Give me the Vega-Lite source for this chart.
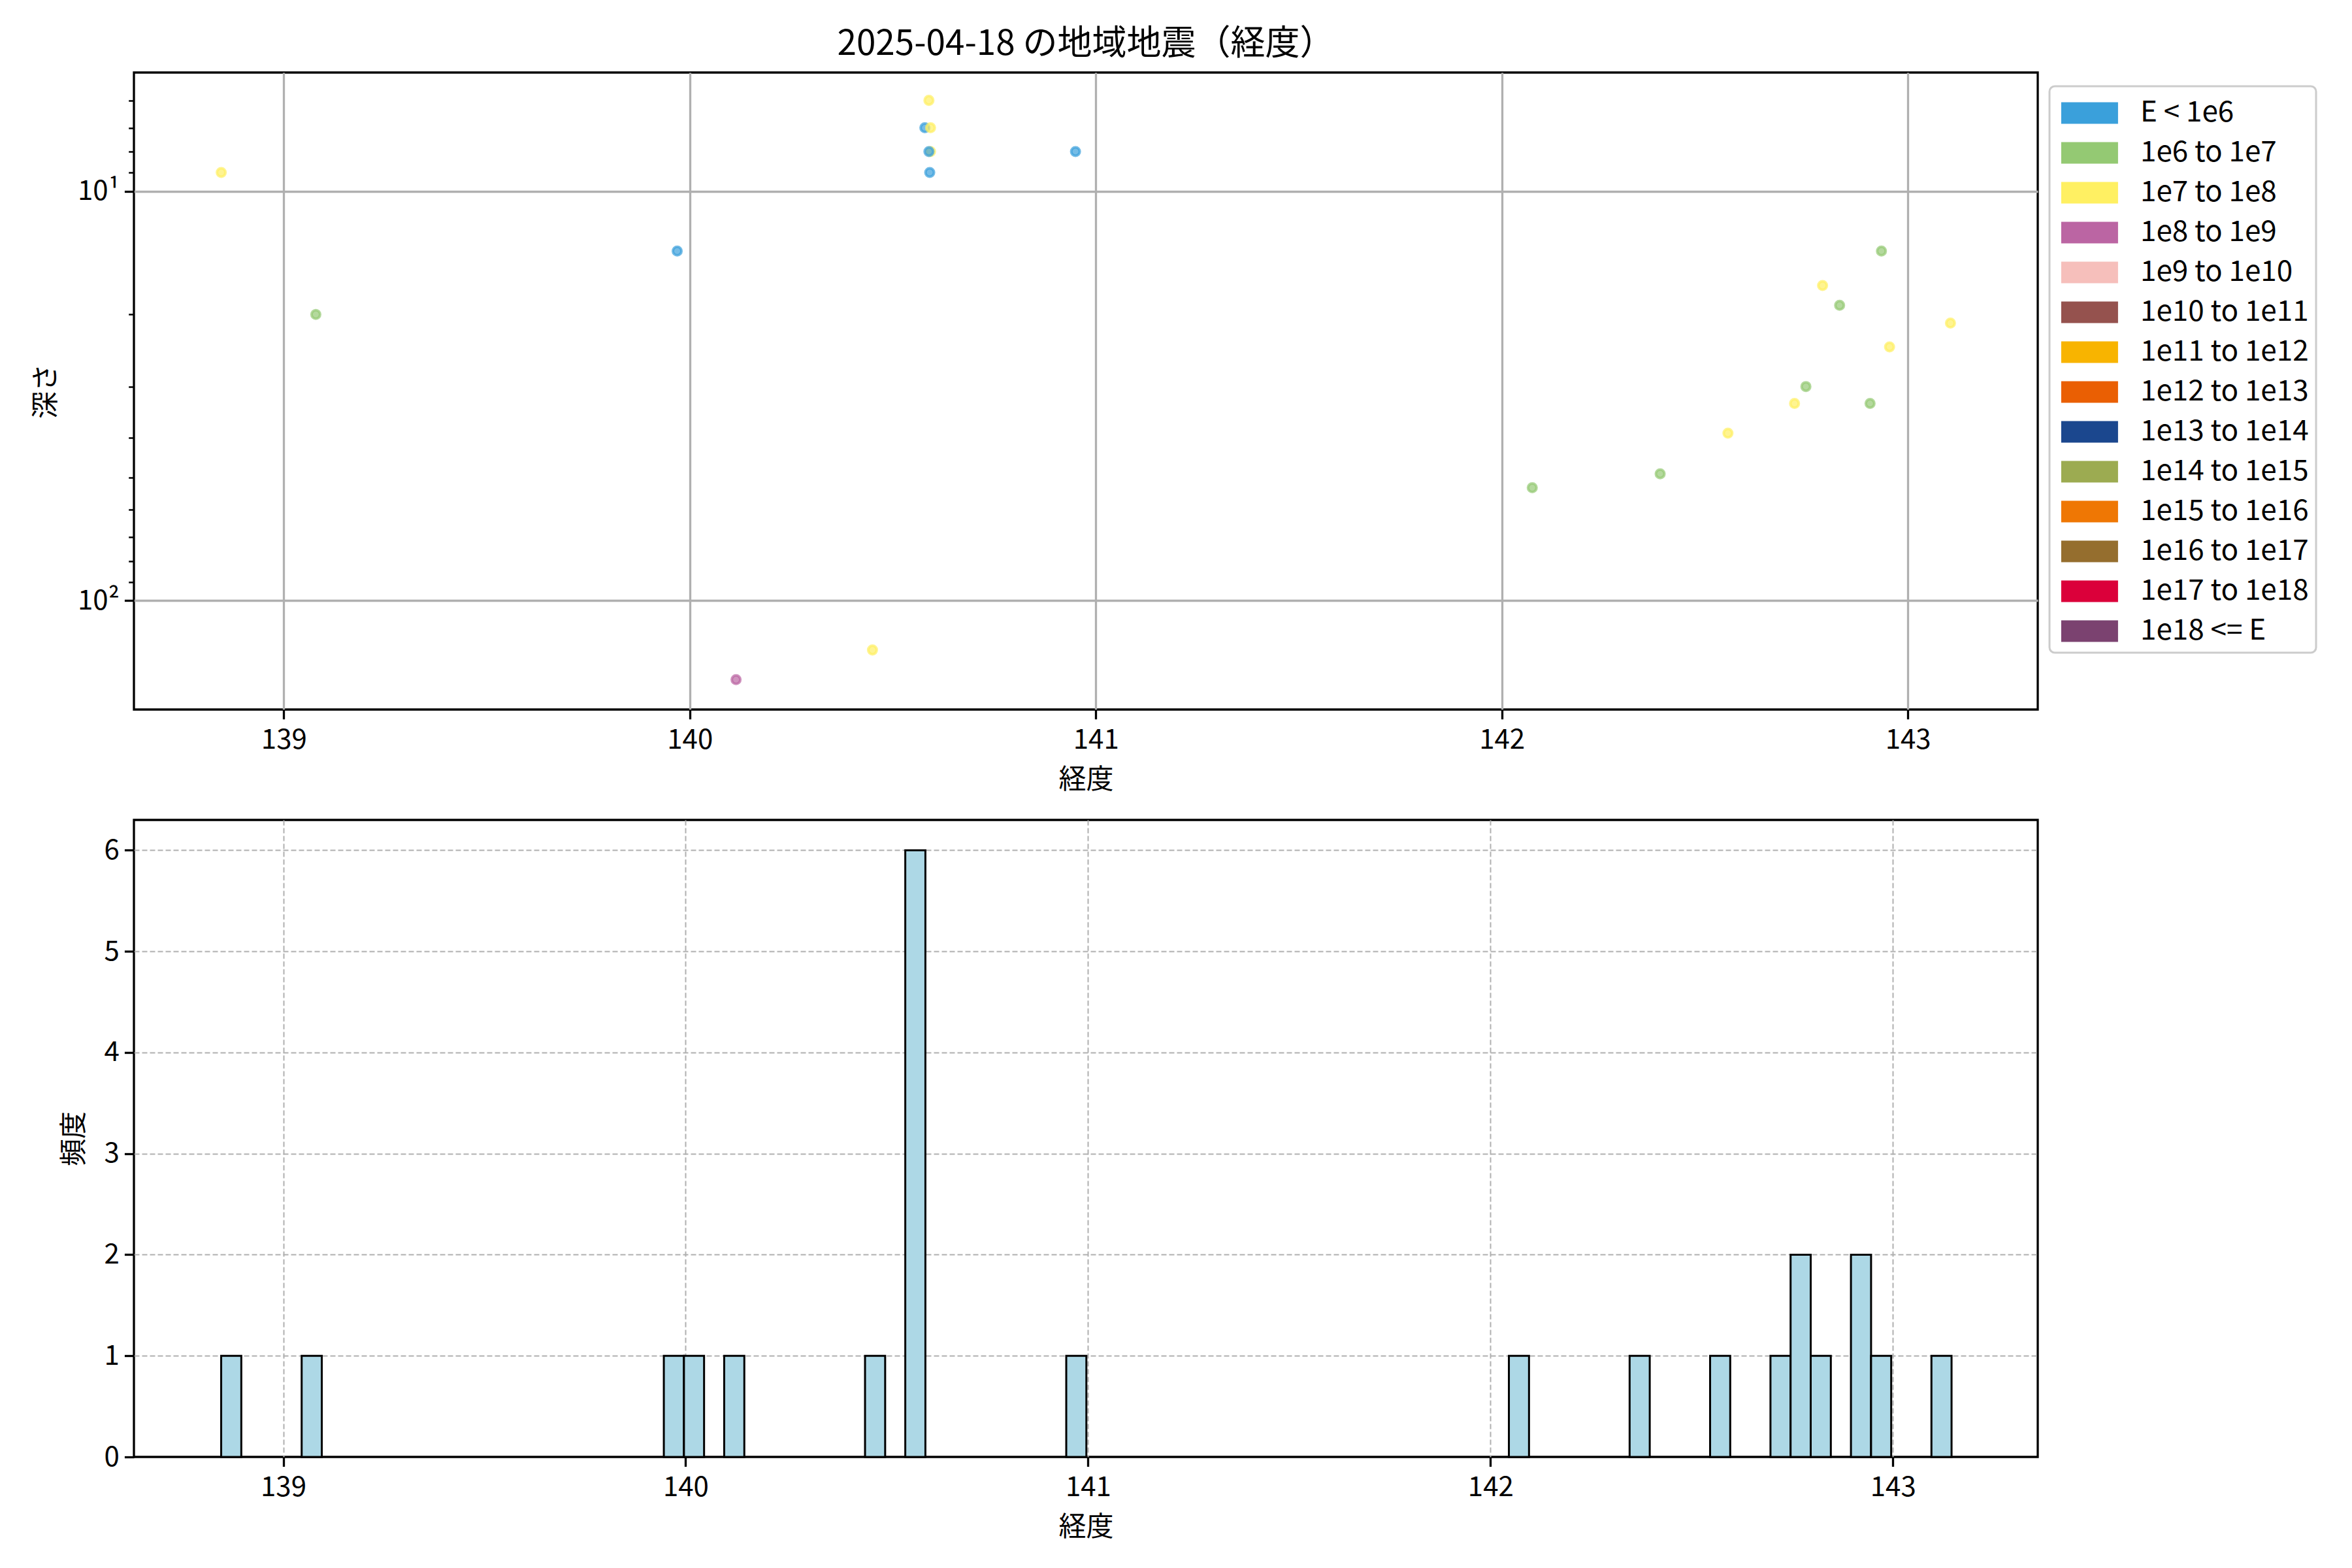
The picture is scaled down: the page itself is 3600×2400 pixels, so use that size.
{
  "$schema": "https://vega.github.io/schema/vega-lite/v6.json",
  "background": "white",
  "padding": {"left": 47, "top": 40, "right": 10, "bottom": 10},
  "spacing": 36,
  "config": {
    "font": "Noto Sans CJK JP",
    "view": {"stroke": "black", "strokeWidth": 3.3},
    "axis": {
      "domain": false,
      "labelFontSize": 42,
      "titleFontSize": 42,
      "labelColor": "black",
      "titleColor": "black",
      "titleFontWeight": "normal",
      "tickColor": "black",
      "tickSize": 14.6,
      "tickWidth": 3.3,
      "labelPadding": 8,
      "titlePadding": 14
    },
    "axisX": {"labelPadding": 12, "titlePadding": 20}
  },
  "datasets": {
    "quakes": [
      {"lon": 138.846, "depth": 9.0, "cls": "1e7 to 1e8"},
      {"lon": 139.079, "depth": 20.0, "cls": "1e6 to 1e7"},
      {"lon": 139.969, "depth": 14.0, "cls": "E < 1e6"},
      {"lon": 140.02, "depth": 0, "cls": "E < 1e6"},
      {"lon": 140.114, "depth": 156, "cls": "1e8 to 1e9"},
      {"lon": 140.45, "depth": 132, "cls": "1e7 to 1e8"},
      {"lon": 140.589, "depth": 6.0, "cls": "1e7 to 1e8"},
      {"lon": 140.579, "depth": 7.0, "cls": "E < 1e6"},
      {"lon": 140.593, "depth": 7.0, "cls": "1e7 to 1e8"},
      {"lon": 140.593, "depth": 8.0, "cls": "1e7 to 1e8"},
      {"lon": 140.589, "depth": 8.0, "cls": "E < 1e6"},
      {"lon": 140.591, "depth": 9.0, "cls": "E < 1e6"},
      {"lon": 140.95, "depth": 8.0, "cls": "E < 1e6"},
      {"lon": 142.075, "depth": 53, "cls": "1e6 to 1e7"},
      {"lon": 142.39, "depth": 49, "cls": "1e6 to 1e7"},
      {"lon": 142.557, "depth": 39, "cls": "1e7 to 1e8"},
      {"lon": 142.721, "depth": 33, "cls": "1e7 to 1e8"},
      {"lon": 142.749, "depth": 30, "cls": "1e6 to 1e7"},
      {"lon": 142.79, "depth": 17, "cls": "1e7 to 1e8"},
      {"lon": 142.832, "depth": 19, "cls": "1e6 to 1e7"},
      {"lon": 142.907, "depth": 33, "cls": "1e6 to 1e7"},
      {"lon": 142.935, "depth": 14, "cls": "1e6 to 1e7"},
      {"lon": 142.955, "depth": 24, "cls": "1e7 to 1e8"},
      {"lon": 143.105, "depth": 21, "cls": "1e7 to 1e8"}
    ]
  },
  "vconcat": [
    {
      "width": 2914,
      "height": 975,
      "title": {"text": "2025-04-18 の地域地震（経度）", "fontSize": 53, "fontWeight": "normal", "offset": 16, "anchor": "middle", "color": "black"},
      "data": {"name": "quakes"},
      "transform": [{"filter": "datum.depth > 0"}],
      "mark": {"type": "point", "filled": true, "size": 170, "fillOpacity": 0.7, "strokeOpacity": 0.7, "strokeWidth": 4},
      "encoding": {
        "x": {
          "field": "lon", "type": "quantitative",
          "scale": {"domain": [138.631, 143.32], "nice": false, "zero": false},
          "axis": {"values": [139, 140, 141, 142, 143], "format": "d", "title": "経度", "grid": true, "gridColor": "#b0b0b0", "gridWidth": 3.3}
        },
        "y": {
          "field": "depth", "type": "quantitative",
          "scale": {"type": "log", "domain": [5.13, 184.5], "reverse": true, "nice": false},
          "axis": {
            "values": [6, 7, 8, 9, 10, 20, 30, 40, 50, 60, 70, 80, 90, 100],
            "labelExpr": "datum.value == 10 ? '10¹' : (datum.value == 100 ? '10²' : '')",
            "title": "深さ",
            "grid": true,
            "gridColor": "#b0b0b0",
            "gridWidth": 3.3,
            "gridOpacity": {"condition": {"test": "datum.value == 10 || datum.value == 100", "value": 1}, "value": 0},
            "tickSize": {"condition": {"test": "datum.value == 10 || datum.value == 100", "value": 14.6}, "value": 8.3},
            "tickWidth": {"condition": {"test": "datum.value == 10 || datum.value == 100", "value": 3.3}, "value": 2.5},
            "titlePadding": 26
          }
        },
        "color": {
          "field": "cls", "type": "nominal",
          "scale": {
            "domain": ["E < 1e6", "1e6 to 1e7", "1e7 to 1e8", "1e8 to 1e9", "1e9 to 1e10", "1e10 to 1e11", "1e11 to 1e12", "1e12 to 1e13", "1e13 to 1e14", "1e14 to 1e15", "1e15 to 1e16", "1e16 to 1e17", "1e17 to 1e18", "1e18 <= E"],
            "range": ["#3aa0db", "#94c973", "#fff062", "#bb65a3", "#f6bfbb", "#95524e", "#f8b400", "#ea5f03", "#1b478e", "#9cab51", "#ef7704", "#956e2e", "#db003a", "#7b4270"]
          },
          "legend": {
            "orient": "none",
            "legendX": 2932,
            "legendY": 21,
            "title": null,
            "symbolType": "M-0.77,-0.55H2.13V0.55H-0.77Z",
            "symbolSize": 3600,
            "symbolOpacity": 1,
            "symbolStrokeWidth": 0,
            "labelFontSize": 44,
            "labelColor": "black",
            "labelOffset": 68,
            "labelLimit": 0,
            "rowPadding": 9,
            "padding": 11,
            "strokeColor": "#cccccc",
            "fillColor": "white",
            "cornerRadius": 8,
            "encode": {"legend": {"update": {"strokeWidth": {"value": 3}}}}
          }
        },
        "stroke": {
          "field": "cls", "type": "nominal",
          "scale": {
            "domain": ["E < 1e6", "1e6 to 1e7", "1e7 to 1e8", "1e8 to 1e9", "1e9 to 1e10", "1e10 to 1e11", "1e11 to 1e12", "1e12 to 1e13", "1e13 to 1e14", "1e14 to 1e15", "1e15 to 1e16", "1e16 to 1e17", "1e17 to 1e18", "1e18 <= E"],
            "range": ["#3aa0db", "#94c973", "#fff062", "#bb65a3", "#f6bfbb", "#95524e", "#f8b400", "#ea5f03", "#1b478e", "#9cab51", "#ef7704", "#956e2e", "#db003a", "#7b4270"]
          },
          "legend": null
        }
      }
    },
    {
      "width": 2914,
      "height": 975,
      "data": {"name": "quakes"},
      "mark": {"type": "bar", "fill": "#add8e6", "stroke": "black", "strokeWidth": 3, "binSpacing": 0},
      "encoding": {
        "x": {
          "field": "lon", "type": "quantitative",
          "bin": {"extent": [138.845, 143.145], "step": 0.05, "nice": false},
          "scale": {"domain": [138.629, 143.36], "nice": false, "zero": false},
          "axis": {"values": [139, 140, 141, 142, 143], "format": "d", "title": "経度", "grid": true, "gridColor": "#b0b0b0", "gridWidth": 2, "gridDash": [8, 4]}
        },
        "y": {
          "aggregate": "count", "type": "quantitative",
          "scale": {"domain": [0, 6.3], "nice": false},
          "axis": {
            "values": [0, 1, 2, 3, 4, 5, 6], "format": "d", "title": "頻度", "grid": true, "gridColor": "#b0b0b0", "gridWidth": 2, "gridDash": [8, 4], "titlePadding": 24,
            "gridOpacity": {"condition": {"test": "datum.value == 0", "value": 0}, "value": 1}
          }
        }
      }
    }
  ]
}
